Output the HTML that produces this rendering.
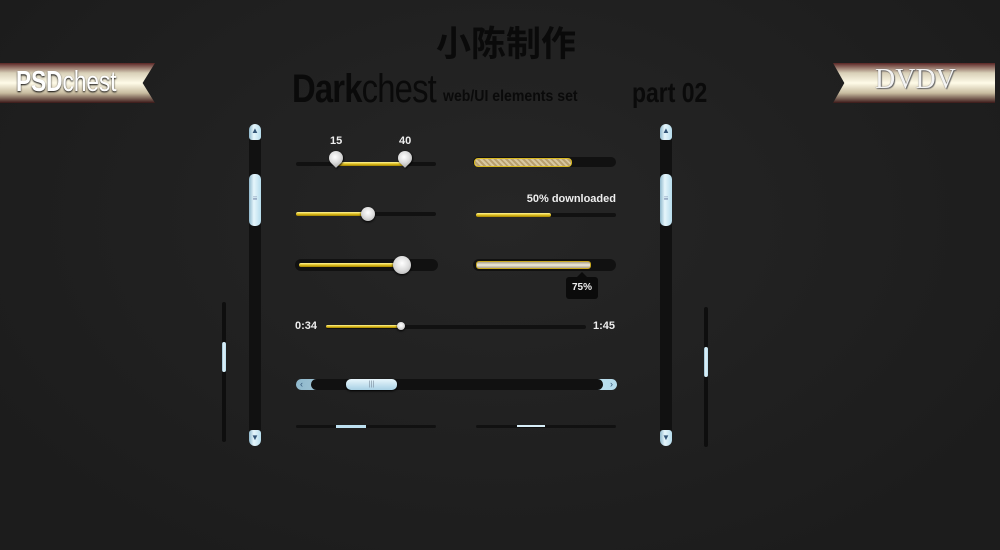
<!DOCTYPE html>
<html><head><meta charset="utf-8"><style>
*{margin:0;padding:0;box-sizing:border-box}
body{width:1000px;height:550px;overflow:hidden;background:radial-gradient(ellipse at 50% 40%,#262626,#1c1c1c 85%);position:relative;font-family:"Liberation Sans",sans-serif}
.a{position:absolute}
.trk{position:absolute;background:#111;border-radius:3px}
.y{position:absolute;background:linear-gradient(#fff6a0,#e0c020 50%,#a08000);border-radius:2px}
.blue{background:linear-gradient(90deg,#8fb8cc,#e6f6fc 40%,#b6dcec);}
.lbl{position:absolute;color:#eee;font-weight:bold;font-size:11px}
.knob{position:absolute;border-radius:50%;background:radial-gradient(circle at 50% 40%,#fff,#ddd 50%,#aaa);box-shadow:0 1px 2px #000}
</style></head><body>
<div class="a" style="left:0;top:16px;width:1000px;text-align:center;font-family:'Liberation Sans','Noto Sans CJK SC',sans-serif;font-size:35px;font-weight:bold;color:#0a0a0a;padding-left:12px">小陈制作</div>

<div class="a" style="left:0;top:63px;width:155px;height:40px;background:linear-gradient(#5a2525,#d8d0b8 25%,#fffbe8 50%,#c8bca0 75%,#3a1818);clip-path:polygon(0 0,100% 0,92% 50%,100% 100%,0 100%)"></div>
<div class="a" style="left:16px;top:66px;font-size:29px;color:#fff;text-shadow:0 1px 2px #000;transform:scaleX(.78);transform-origin:left;white-space:nowrap"><b>PSD</b>chest</div>
<div class="a" style="left:833px;top:63px;width:162px;height:40px;background:linear-gradient(#5a2525,#d8d0b8 25%,#fffbe8 50%,#c8bca0 75%,#3a1818);clip-path:polygon(0 0,100% 0,100% 100%,0 100%,7% 50%)"></div>
<div class="a" style="left:875px;top:64px;font-family:'Liberation Serif',serif;font-size:28px;color:#f4f4f4;text-shadow:0 0 1px #555,1px 1px 1px #666">DVDV</div>

<div class="a" style="left:292px;top:67px;font-size:40px;color:#0a0a0a;transform:scaleX(.82);transform-origin:left;letter-spacing:-1px;white-space:nowrap"><b>Dark</b>chest</div>
<div class="a" style="left:443px;top:88px;font-size:16px;font-weight:bold;color:#0a0a0a;transform:scaleX(.88);transform-origin:left;white-space:nowrap">web/UI elements set</div>
<div class="a" style="left:632px;top:77px;font-size:28px;font-weight:bold;color:#0a0a0a;transform:scaleX(.82);transform-origin:left;white-space:nowrap">part 02</div>

<!-- left vertical scroll -->
<div class="a" style="left:249px;top:124px;width:12px;height:322px;background:#111;border-radius:6px"></div>
<div class="a blue" style="left:249px;top:124px;width:12px;height:16px;border-radius:6px 6px 3px 3px;color:#357;font-size:8px;text-align:center;line-height:14px">▲</div>
<div class="a blue" style="left:249px;top:430px;width:12px;height:16px;border-radius:3px 3px 6px 6px;color:#357;font-size:8px;text-align:center;line-height:16px">▼</div>
<div class="a blue" style="left:249px;top:174px;width:12px;height:52px;border-radius:5px;color:#78a;font-size:8px;text-align:center;line-height:50px">≡</div>
<div class="a" style="left:222px;top:302px;width:4px;height:140px;background:#0e0e0e;border-radius:2px"></div>
<div class="a blue" style="left:222px;top:342px;width:4px;height:30px;border-radius:2px"></div>
<!-- right vertical -->
<div class="a" style="left:660px;top:124px;width:12px;height:322px;background:#111;border-radius:6px"></div>
<div class="a blue" style="left:660px;top:124px;width:12px;height:16px;border-radius:6px 6px 3px 3px;color:#357;font-size:8px;text-align:center;line-height:14px">▲</div>
<div class="a blue" style="left:660px;top:430px;width:12px;height:16px;border-radius:3px 3px 6px 6px;color:#357;font-size:8px;text-align:center;line-height:16px">▼</div>
<div class="a blue" style="left:660px;top:174px;width:12px;height:52px;border-radius:5px;color:#78a;font-size:8px;text-align:center;line-height:50px">≡</div>
<div class="a" style="left:704px;top:307px;width:4px;height:140px;background:#0e0e0e;border-radius:2px"></div>
<div class="a blue" style="left:704px;top:347px;width:4px;height:30px;border-radius:2px"></div>

<!-- slider 1 -->
<div class="trk" style="left:296px;top:162px;width:140px;height:4px"></div>
<div class="y" style="left:336px;top:162px;width:69px;height:4px"></div>
<div class="lbl" style="left:330px;top:135px">15</div>
<div class="lbl" style="left:399px;top:135px">40</div>
<div class="knob" style="left:329px;top:151px;width:14px;height:14px;border-radius:50% 50% 50% 0;transform:rotate(-45deg)"></div>
<div class="knob" style="left:398px;top:151px;width:14px;height:14px;border-radius:50% 50% 50% 0;transform:rotate(-45deg)"></div>
<!-- slider 2 -->
<div class="trk" style="left:296px;top:212px;width:140px;height:4px"></div>
<div class="y" style="left:296px;top:212px;width:72px;height:4px"></div>
<div class="knob" style="left:361px;top:207px;width:14px;height:14px"></div>
<!-- slider 3 -->
<div class="trk" style="left:295px;top:259px;width:143px;height:12px;border-radius:6px"></div>
<div class="y" style="left:299px;top:263px;width:103px;height:4px"></div>
<div class="knob" style="left:393px;top:256px;width:18px;height:18px"></div>

<!-- right progress -->
<div class="trk" style="left:473px;top:157px;width:143px;height:10px;border-radius:5px"></div>
<div class="a" style="left:474px;top:158px;width:98px;height:9px;border-radius:4px;border:1px solid #d8b820;background:repeating-linear-gradient(45deg,#d8c8a0 0 2px,#b8a070 2px 4px)"></div>
<div class="lbl" style="left:470px;top:193px;width:146px;text-align:right">50% downloaded</div>
<div class="trk" style="left:476px;top:213px;width:140px;height:4px"></div>
<div class="y" style="left:476px;top:213px;width:75px;height:4px"></div>
<div class="trk" style="left:473px;top:259px;width:143px;height:12px;border-radius:6px"></div>
<div class="a" style="left:476px;top:261px;width:115px;height:8px;border-radius:3px;border:1px solid #c8a820;background:linear-gradient(#aaa090,#f0ecd8 50%,#aaa090)"></div>
<div class="a" style="left:577px;top:272px;width:0;height:0;border:5px solid transparent;border-bottom-color:#0b0b0b;border-top:0"></div>
<div class="a" style="left:566px;top:277px;width:32px;height:22px;background:#0b0b0b;border-radius:3px;color:#eee;font-size:10px;font-weight:bold;text-align:center;line-height:22px">75%</div>

<!-- audio -->
<div class="lbl" style="left:295px;top:320px">0:34</div>
<div class="trk" style="left:326px;top:325px;width:260px;height:4px"></div>
<div class="y" style="left:326px;top:325px;width:75px;height:3px"></div>
<div class="knob" style="left:397px;top:322px;width:8px;height:8px"></div>
<div class="lbl" style="left:593px;top:320px">1:45</div>

<!-- h scroll -->
<div class="a blue" style="left:296px;top:379px;width:321px;height:11px;border-radius:6px;color:#357;font-size:9px;line-height:11px;padding:0 4px"><span>‹</span><span style="float:right">›</span></div>
<div class="a" style="left:311px;top:379px;width:292px;height:11px;background:#111;border-radius:6px"></div>
<div class="a" style="left:346px;top:379px;width:51px;height:11px;border-radius:5px;background:linear-gradient(#e8f6fc,#a8d0e4);color:#789;font-size:7px;text-align:center;line-height:11px;box-shadow:0 1px 2px #000">|||</div>

<div class="trk" style="left:296px;top:425px;width:140px;height:3px"></div>
<div class="a" style="left:336px;top:425px;width:30px;height:3px;background:#bde0f0"></div>
<div class="trk" style="left:476px;top:425px;width:140px;height:3px"></div>
<div class="a" style="left:517px;top:425px;width:28px;height:2px;background:#d8eef8"></div>
</body></html>
